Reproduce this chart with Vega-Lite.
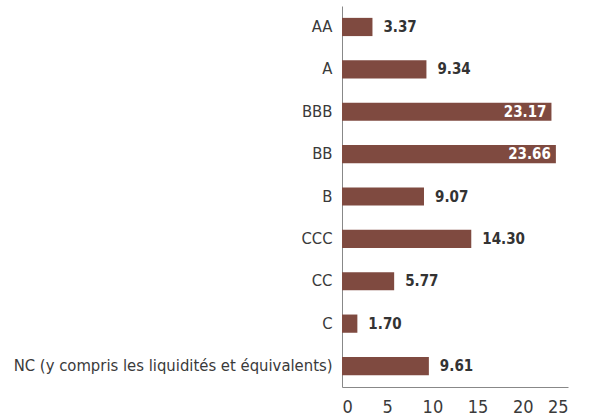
{
  "$schema": "https://vega.github.io/schema/vega-lite/v6.json",
  "autosize": "none",
  "width": 226,
  "height": 381,
  "padding": {"left": 342, "top": 6, "right": 22, "bottom": 30},
  "background": "white",
  "config": {"view": {"stroke": null}, "font": "DejaVu Sans Condensed, Roboto, sans-serif"},
  "data": {"values": [
    {"rating": "AA", "value": 3.37},
    {"rating": "A", "value": 9.34},
    {"rating": "BBB", "value": 23.17},
    {"rating": "BB", "value": 23.66},
    {"rating": "B", "value": 9.07},
    {"rating": "CCC", "value": 14.30},
    {"rating": "CC", "value": 5.77},
    {"rating": "C", "value": 1.70},
    {"rating": "NC (y compris les liquidités et équivalents)", "value": 9.61}
  ]},
  "encoding": {
    "y": {"field": "rating", "type": "nominal", "sort": null,
      "scale": {"paddingInner": 0.57, "paddingOuter": 0.28},
      "axis": {"title": null, "ticks": false, "labelPadding": 10, "labelFontSize": 16.5, "labelColor": "#3a3a3a", "labelFont": "DejaVu Sans Condensed, Roboto, sans-serif", "domainColor": "#888", "labelLimit": 400}},
    "x": {"field": "value", "type": "quantitative",
      "scale": {"domain": [0, 25], "nice": false},
      "axis": {"title": null, "values": [0,5,10,15,20,25], "ticks": false, "grid": false, "labelPadding": 11, "labelFontSize": 18, "labelColor": "#3a3a3a", "labelFont": "DejaVu Sans Condensed, Roboto, sans-serif", "domainColor": "#888"}}
  },
  "layer": [
    {"mark": {"type": "bar", "color": "#7f4a40"}},
    {"transform": [{"filter": "datum.value < 20"}],
     "mark": {"type": "text", "align": "left", "dx": 11, "fontWeight": "bold", "fontSize": 15, "color": "#333333"},
     "encoding": {"text": {"field": "value", "type": "quantitative", "format": ".2f"}}},
    {"transform": [{"filter": "datum.value >= 20"}],
     "mark": {"type": "text", "align": "right", "dx": -5, "fontWeight": "bold", "fontSize": 15, "color": "white"},
     "encoding": {"text": {"field": "value", "type": "quantitative", "format": ".2f"}}}
  ]
}
